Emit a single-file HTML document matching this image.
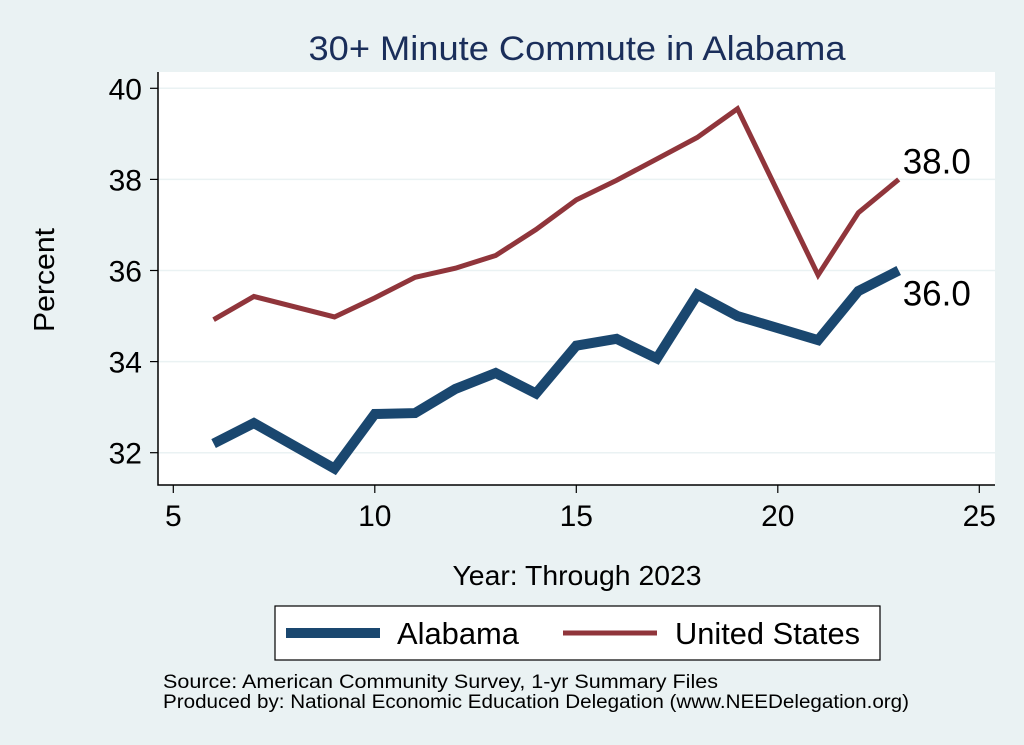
<!DOCTYPE html>
<html><head><meta charset="utf-8"><style>
body{margin:0;background:#eaf2f3;}
svg{display:block;font-family:"Liberation Sans",Arial,sans-serif;}
</style></head><body>
<svg id="chart" width="1024" height="745">
<rect x="0" y="0" width="1024" height="745" fill="#eaf2f3"/>
<text x="577" y="60" font-size="34" fill="#1a2e5a" text-anchor="middle" textLength="537" lengthAdjust="spacingAndGlyphs">30+ Minute Commute in Alabama</text>
<rect x="158" y="72" width="837" height="413" fill="#ffffff"/>
<g id="grid"></g>
<g id="axes"></g>
<g id="series"></g>
<text x="577" y="585" font-size="28" text-anchor="middle" textLength="249" lengthAdjust="spacingAndGlyphs">Year: Through 2023</text>
<text transform="translate(54,280) rotate(-90)" font-size="29" text-anchor="middle" textLength="104" lengthAdjust="spacingAndGlyphs">Percent</text>
<g>
<rect x="275" y="606" width="605" height="54" fill="#ffffff" stroke="#000" stroke-width="1.2"/>
<line x1="286" y1="633" x2="380" y2="633" stroke="#1a476f" stroke-width="10"/>
<text x="397" y="644" font-size="31" textLength="122" lengthAdjust="spacingAndGlyphs">Alabama</text>
<line x1="563" y1="633" x2="657" y2="633" stroke="#90353b" stroke-width="5"/>
<text x="675" y="644" font-size="31" textLength="185" lengthAdjust="spacingAndGlyphs">United States</text>
</g>
<text x="163" y="688" font-size="19" textLength="555" lengthAdjust="spacingAndGlyphs">Source: American Community Survey, 1-yr Summary Files</text>
<text x="163" y="708" font-size="19" textLength="746" lengthAdjust="spacingAndGlyphs">Produced by: National Economic Education Delegation (www.NEEDelegation.org)</text>
</svg>
<script>
const years=[6,7,9,10,11,12,13,14,15,16,17,18,19,21,22,23];
const alabama=[32.2,32.65,31.65,32.85,32.87,33.4,33.75,33.3,34.35,34.5,34.07,35.47,35.0,34.47,35.55,36.0];
const unitedStates=[34.92,35.43,34.98,35.4,35.85,36.05,36.33,36.9,37.55,37.98,38.45,38.92,39.55,35.9,37.27,38.0];
const xTicks=[5,10,15,20,25];
const yTicks=[32,34,36,38,40];
const NS="http://www.w3.org/2000/svg";
function xs(v){return 173.3+(v-5)*40.3;}
function ys(v){return 452.7-(v-32)*45.55;}
function mk(tag,attrs,parent){const e=document.createElementNS(NS,tag);for(const k in attrs)e.setAttribute(k,attrs[k]);document.getElementById(parent).appendChild(e);return e;}
yTicks.forEach(t=>{
 const g=mk('line',{x1:158,x2:995,y1:ys(t),y2:ys(t),stroke:'#eaf2f3','stroke-width':1.5},'grid');
 
 
 const tk=mk('line',{x1:150,x2:158,y1:ys(t),y2:ys(t),stroke:'#000','stroke-width':1.2},'axes');
 
 
 const tx=mk('text',{x:142,y:ys(t)+11,'font-size':30,'text-anchor':'end'},'axes');tx.textContent=t;
 
 
});
xTicks.forEach(t=>{
 const tk=mk('line',{x1:xs(t),x2:xs(t),y1:485,y2:493,stroke:'#000','stroke-width':1.2},'axes');
 
 
 const tx=mk('text',{x:xs(t),y:526,'font-size':30,'text-anchor':'middle'},'axes');tx.textContent=t;
 
 
});
const ax=mk('path',{d:'M158,72 V485 H995',fill:'none',stroke:'#000','stroke-width':1.5},'axes');


function line(vals,color,w,name){
 const d=years.map((y,i)=>(i?'L':'M')+xs(y)+','+ys(vals[i])).join(' ');
 const p=mk('path',{d:d,fill:'none',stroke:color,'stroke-width':w,'stroke-linejoin':'miter'},'series');
 
 
}
line(unitedStates,'#90353b',5,'us-line');
line(alabama,'#1a476f',10,'alabama-line');
const n=years.length-1;
const l1=mk('text',{x:xs(years[n])+4,y:ys(unitedStates[n])-6,'font-size':35},'series');l1.textContent=unitedStates[n].toFixed(1);


const l2=mk('text',{x:xs(years[n])+4,y:ys(alabama[n])+35,'font-size':35},'series');l2.textContent=alabama[n].toFixed(1);


</script>
</body></html>
